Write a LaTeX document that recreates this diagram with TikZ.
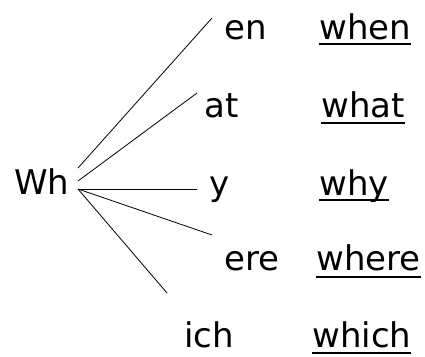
\documentclass[tikz,border=0pt]{standalone}
\usepackage{fontspec}
\setmainfont{DejaVu Sans}
\begin{document}
\begin{tikzpicture}[x=1pt,y=-1pt,
  word/.style={anchor=base west,inner sep=0pt,font=\fontsize{34}{40}\selectfont},
  branch/.style={line width=0.8pt},
  uline/.style={line width=2.5pt}]
\useasboundingbox (0,0) rectangle (425,356);
\node[word] (wh) at (14,194) {Wh};
\node[word] (en) at (224,39) {en};
\node[word] (when) at (319,39) {when};
\node[word] (at) at (204,117) {at};
\node[word] (what) at (321,117) {what};
\node[word] (y) at (209,195) {y};
\node[word] (why) at (319,195) {why};
\node[word] (ere) at (224,270) {ere};
\node[word] (where) at (316,270) {where};
\node[word] (ich) at (184,347) {ich};
\node[word] (which) at (312,347) {which};
\coordinate (o1) at (78,168);
\coordinate (o2) at (78,181);
\coordinate (o3) at (78,189);
\coordinate (e1) at (212,18);
\coordinate (e2) at (197,93);
\coordinate (e3) at (197,189);
\coordinate (e4) at (212,235);
\coordinate (e5) at (167,293);
\draw[branch] (o1) -- (e1);
\draw[branch] (o2) -- (e2);
\draw[branch] (o3) -- (e3);
\draw[branch] (o3) -- (e4);
\draw[branch] (o3) -- (e5);
\draw[uline] ([yshift=-5pt]when.base west) -- ([yshift=-5pt]when.base east);
\draw[uline] ([yshift=-6pt]what.base west) -- ([yshift=-6pt]what.base east);
\draw[uline] ([yshift=-5pt]why.base west) -- ([yshift=-5pt]why.base east);
\draw[uline] ([yshift=-7pt]where.base west) -- ([yshift=-7pt]where.base east);
\draw[uline] ([yshift=-6pt]which.base west) -- ([yshift=-6pt]which.base east);
\end{tikzpicture}
\end{document}
